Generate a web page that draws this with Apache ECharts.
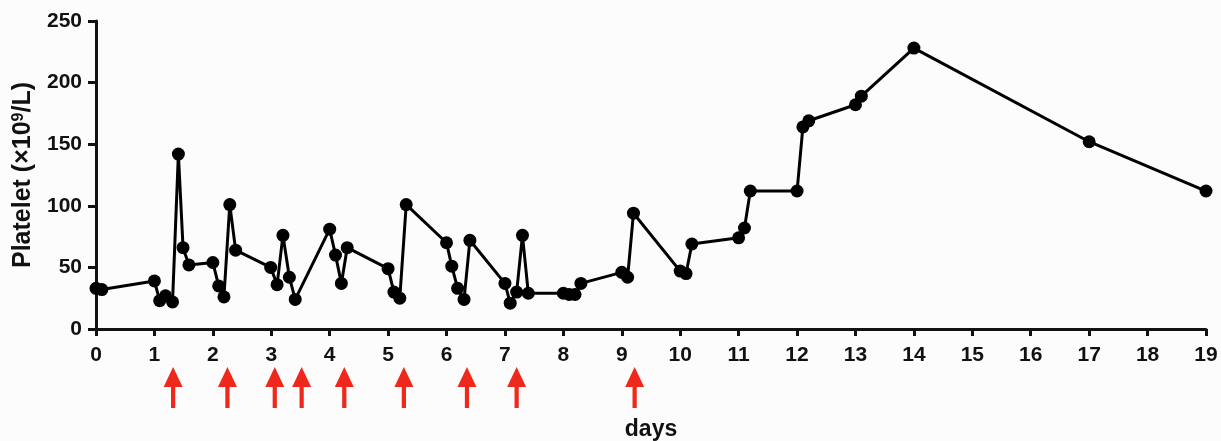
<!DOCTYPE html>
<html>
<head>
<meta charset="utf-8">
<script src="https://cdn.jsdelivr.net/npm/echarts@6/dist/echarts.min.js"></script>
<style>
html,body{margin:0;padding:0;background:#fcfcfd;}
#chart{width:1221px;height:441px;}
</style>
</head>
<body>
<div id="chart"></div>
<script>
const days = [0, 0.1, 1.0, 1.09, 1.19, 1.31, 1.41, 1.49, 1.59, 2.0, 2.1, 2.19, 2.29, 2.39, 2.99, 3.1, 3.2, 3.31, 3.41, 4.0, 4.1, 4.2, 4.3, 5.0, 5.1, 5.2, 5.31, 6.0, 6.09, 6.19, 6.3, 6.4, 7.0, 7.09, 7.2, 7.3, 7.4, 8.0, 8.1, 8.2, 8.3, 9.0, 9.1, 9.2, 10.0, 10.1, 10.2, 11.0, 11.1, 11.2, 12.0, 12.1, 12.2, 13.0, 13.1, 14.0, 17.0, 19.0];
const platelet = [33, 32, 39, 23, 27, 22, 142, 66, 52, 54, 35, 26, 101, 64, 50, 36, 76, 42, 24, 81, 60, 37, 66, 49, 30, 25, 101, 70, 51, 33, 24, 72, 37, 21, 30, 76, 29, 29, 28, 28, 37, 46, 42, 94, 47, 45, 69, 74, 82, 112, 112, 164, 169, 182, 189, 228, 152, 112];
const arrowDays = [1.32, 2.25, 3.06, 3.52, 4.25, 5.27, 6.35, 7.2, 9.22];
const yTicks = [0, 50, 100, 150, 200, 250];
const xTicks = [0,1,2,3,4,5,6,7,8,9,10,11,12,13,14,15,16,17,18,19];

const FONT = '"Liberation Sans", Arial, sans-serif';
const chart = echarts.init(document.getElementById('chart'), null, {renderer: 'canvas'});
const arrowPath = 'path://M9,0 L18,20 L11,20 L11,41 L7,41 L7,20 L0,20 Z';

chart.setOption({
  backgroundColor: '#fcfcfd',
  animation: false,
  grid: [
    {left: 96, right: 15, top: 21, bottom: 112, outerBoundsMode: 'none', containLabel: false},
    {left: 96, right: 15, top: 367, height: 41, outerBoundsMode: 'none', containLabel: false}
  ],
  xAxis: [{
    gridIndex: 0,
    type: 'value',
    min: xTicks[0], max: xTicks[xTicks.length - 1], interval: 1,
    name: 'days', nameLocation: 'middle', nameGap: 89,
    nameTextStyle: {fontFamily: FONT, fontWeight: 'bold', fontSize: 23, color: '#111'},
    axisLine: {show: true, lineStyle: {color: '#111', width: 3}},
    axisTick: {show: true, length: 7, lineStyle: {color: '#111', width: 3}},
    axisLabel: {fontFamily: FONT, fontWeight: 'bold', fontSize: 21, color: '#111', margin: 16},
    splitLine: {show: false}
  }, {
    gridIndex: 1,
    type: 'value',
    min: xTicks[0], max: xTicks[xTicks.length - 1],
    show: false
  }],
  yAxis: [{
    gridIndex: 0,
    type: 'value',
    min: yTicks[0], max: yTicks[yTicks.length - 1], interval: 50,
    name: '{a|Platelet (×10}{s|9}{a|/L)}',
    nameLocation: 'middle', nameGap: 58, nameRotate: 90,
    nameTextStyle: {
      rich: {
        a: {fontFamily: FONT, fontWeight: 'bold', fontSize: 25, color: '#111'},
        s: {fontFamily: FONT, fontWeight: 'bold', fontSize: 16, color: '#111', verticalAlign: 'top', padding: [0, 0, 10, 0]}
      }
    },
    axisLine: {show: true, lineStyle: {color: '#111', width: 3}},
    axisTick: {show: true, length: 8, lineStyle: {color: '#111', width: 3}},
    axisLabel: {fontFamily: FONT, fontWeight: 'bold', fontSize: 21, color: '#111', margin: 14},
    splitLine: {show: false}
  }, {
    gridIndex: 1,
    type: 'value', min: 0, max: 1, show: false
  }],
  series: [{
    type: 'line',
    xAxisIndex: 0, yAxisIndex: 0,
    data: days.map((d, i) => [d, platelet[i]]),
    symbol: 'circle', symbolSize: 13,
    showAllSymbol: true,
    lineStyle: {color: '#000', width: 3},
    itemStyle: {color: '#000'},
    z: 3
  }, {
    type: 'scatter',
    xAxisIndex: 1, yAxisIndex: 1,
    data: arrowDays.map(d => [d, 0.5]),
    symbol: arrowPath, symbolSize: [19, 41],
    itemStyle: {color: '#f0281c', opacity: 1},
    silent: true
  }]
});
</script>
</body>
</html>
